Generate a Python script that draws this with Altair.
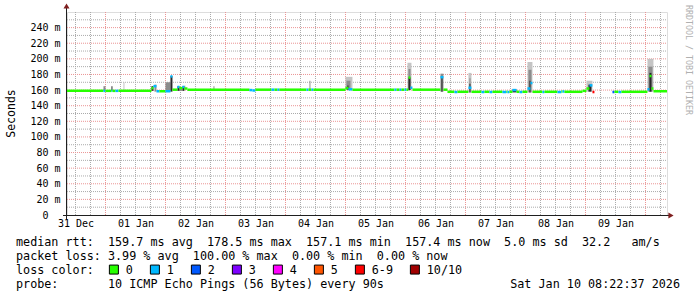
import json
import altair as alt
import pandas as pd

MONO = "DejaVu Sans Mono"
NB = "\u00a0"

# ---------------- data ----------------
# time axis: hours counted from 2025-12-31 00:00 ; graph window = 10 days
T_START = 8.6
T_END = 248.6

day_hours = [12, 36, 60, 84, 108, 132, 156, 180, 204, 228]
day_labels = ["31 Dec", "01 Jan", "02 Jan", "03 Jan", "04 Jan",
              "05 Jan", "06 Jan", "07 Jan", "08 Jan", "09 Jan"]
y_ticks = [0, 20, 40, 60, 80, 100, 120, 140, 160, 180, 200, 220, 240]

# median rtt (ms) as steps: start hour, value, loss class
med_start = [8.38, 23.18, 23.98, 26.38, 26.78, 27.98, 29.18,
             42.38, 43.18, 44.38, 45.58, 47.98, 49.98, 50.78, 52.78, 53.58, 54.78, 55.58, 56.78,
             81.58, 82.78, 83.98, 90.38, 91.58, 92.78, 93.58, 104.38, 105.18, 106.38, 107.18, 119.98, 121.18, 122.78,
             139.58, 140.38, 141.58, 142.38, 143.58, 144.38, 145.18, 145.98, 146.78, 157.98, 159.18, 160.78,
             163.58, 164.78, 169.18, 170.38, 174.38, 175.58, 177.58, 178.78, 182.78, 184.38, 184.78, 185.58,
             186.78, 188.38, 189.58, 190.78, 192.78, 193.98, 194.78,
             198.78, 199.58, 204.78, 206.38, 206.78, 207.58, 214.78, 216.38, 217.58, 218.78, 219.58,
             226.78, 227.58, 229.18, 230.38, 240.78, 241.58, 242.38, 243.18]
med_ms = [159.0, 159.0, 159.0, 159.0, 159.0, 159.0, 159.0,
          162.5, 165.0, 158.5, 158.5, 158.5, 177.5, 160.5, 164.0, 162.5, 164.0, 162.0, 160.5,
          160.0, 159.5, 160.5, 160.5, 160.5, 160.5, 160.5, 160.5, 160.5, 160.5, 160.5, 162.5, 161.0, 160.5,
          160.5, 160.5, 160.5, 160.5, 160.5, 160.5, 176.0, 163.0, 160.5, 176.5, 160.5, 157.8,
          157.5, 157.8, 163.0, 157.8, 157.5, 157.8, 157.5, 157.8, 157.5, 157.8, 157.5, 157.8,
          160.0, 157.8, 157.5, 157.8, 162.0, 169.0, 157.8,
          157.5, 157.8, 157.5, 158.2, 158.2, 157.8, 159.0, 162.0, 166.0, 157.5, None,
          157.5, 157.8, 157.5, 157.8, 161.0, 178.0, 162.0, 158.5]
med_loss = ["0", "1", "0", "1", "0", "1", "0",
            "0", "1", "1", "0", "1", "1", "0", "1", "0", "1", "0", "0",
            "1", "1", "0", "1", "0", "1", "0", "1", "0", "1", "0", "0", "1", "0",
            "1", "0", "1", "0", "1", "0", "0", "1", "0", "1", "0", "0",
            "1", "0", "1", "0", "1", "0", "1", "0", "1", "0", "1", "0",
            "1", "0", "1", "0", "1", "1", "0",
            "1", "0", "1", "0", "1", "0", "0", "0", "1", "6-9", None,
            "2", "0", "1", "0", "1", "0", "0", "0"]

# smoke (spread of the individual pings)
smoke_start = [23.18, 26.38, 31.18, 42.38, 43.58, 47.98, 49.98, 52.78, 53.58, 54.78, 55.58,
               67.18, 105.58, 119.98, 120.38, 120.78, 144.78, 145.18, 145.18, 157.98, 158.38,
               169.18, 169.58, 169.58, 186.78, 192.78, 193.18, 193.58, 216.38, 217.18, 240.78, 241.18, 241.58]
smoke_end = [23.98, 26.78, 31.58, 43.18, 44.38, 49.98, 50.78, 53.58, 54.78, 55.58, 55.98,
             67.58, 105.98, 122.78, 121.98, 121.18, 146.38, 145.98, 145.98, 159.18, 158.78,
             170.38, 169.98, 169.98, 188.38, 194.78, 194.38, 193.98, 218.78, 218.38, 243.18, 242.78, 242.38]
smoke_lo = [159, 159, 159, 159, 158, 158, 158, 159, 159, 159, 160,
            160, 160, 160, 160, 160, 160, 160, 160, 158, 158,
            157, 157, 157, 157, 157, 157, 157, 158, 158, 158, 158, 158]
smoke_hi = [165, 165, 170, 165, 167, 170, 178, 165, 164, 165, 166,
            165, 172, 177, 172, 166, 195, 187, 176, 181, 177,
            182, 175, 168, 161, 196, 186, 172, 172, 167, 200, 190, 182]
smoke_shade = ["mid", "dark", "light", "dark", "mid", "mid", "dark", "dark", "mid", "dark", "light",
               "mid", "mid", "light", "mid", "dark", "light", "mid", "dark", "mid", "dark",
               "light", "mid", "dark", "dark", "light", "mid", "dark", "light", "dark", "light", "mid", "dark"]

loss_labels = ["0", "1", "2", "3", "4", "5", "6-9", "10/10"]
loss_colors = ["#26ff00", "#00b8ff", "#0059ff", "#7e00ff", "#ff00ff", "#ff5500", "#ff0000", "#a10000"]

rtt_stats = [159.7, 178.5, 157.1, 157.4]   # avg max min now (ms)
rtt_sd = 5.0
rtt_ams = 32.2
loss_stats = [3.99, 100.00, 0.00, 0.00]    # avg max min now (%)
probe_text = "10 ICMP Echo Pings (56 Bytes) every 90s"
stamp_text = "Sat Jan 10 08:22:37 2026"

# ---------------- tables ----------------
med = pd.DataFrame({"start": med_start, "ms": med_ms, "loss": med_loss})
med["end"] = med_start[1:] + [T_END]
med = med.dropna(subset=["ms"])

shade_rank = {"light": 0, "mid": 1, "dark": 2}
smoke = pd.DataFrame({"start": smoke_start, "end": smoke_end, "lo": smoke_lo,
                      "hi": smoke_hi, "shade": smoke_shade})
smoke["rank"] = smoke["shade"].map(shade_rank)
smoke = smoke.sort_values("rank", kind="stable")

vgrid_minor = pd.DataFrame({"h": [h for h in range(12, 249, 6) if h % 24]})
vgrid_major = pd.DataFrame({"h": list(range(24, 241, 24))})
hgrid_minor = pd.DataFrame({"v": list(range(10, 251, 20))})
hgrid_major = pd.DataFrame({"v": list(range(20, 241, 20))})
one = pd.DataFrame({"a": [0]})

W, H = 600, 203
xs = alt.Scale(domain=[T_START, T_END], nice=False, zero=False)
ys = alt.Scale(domain=[0, 260], nice=False, zero=True)

x_axis = alt.Axis(values=day_hours,
                  labelExpr=f"{json.dumps(day_labels)}[indexof({json.dumps(day_hours)}, datum.value)]",
                  title=None, domain=False, ticks=False, grid=False,
                  labelFont=MONO, labelFontSize=10, labelColor="#000000",
                  labelPadding=3, labelFlush=False, labelOverlap=False)
y_axis = alt.Axis(values=y_ticks,
                  labelExpr=f"datum.value == 0 ? '0' : datum.value + '{NB}m'",
                  title=None, domain=False, ticks=False, grid=False,
                  labelFont=MONO, labelFontSize=10, labelColor="#000000",
                  labelPadding={"condition": {"test": "datum.value == 0", "value": 19}, "value": 7},
                  labelFlush=False, labelOverlap=False)

GRID = "#ababab"
MGRID = "#eb9595"

l_vmin = alt.Chart(vgrid_minor).mark_rule(color=GRID, strokeDash=[1, 1], strokeWidth=1).encode(
    x=alt.X("h:Q", scale=xs, axis=x_axis), y=alt.value(0), y2=alt.value(H))
l_hmin = alt.Chart(hgrid_minor).mark_rule(color=GRID, strokeDash=[1, 1], strokeWidth=1).encode(
    y=alt.Y("v:Q", scale=ys, axis=y_axis), x=alt.value(0), x2=alt.value(W))
l_vmaj = alt.Chart(vgrid_major).mark_rule(color=MGRID, strokeDash=[1, 1], strokeWidth=1).encode(
    x=alt.X("h:Q", scale=xs, axis=x_axis), y=alt.value(0), y2=alt.value(H))
l_hmaj = alt.Chart(hgrid_major).mark_rule(color=MGRID, strokeDash=[1, 1], strokeWidth=1).encode(
    y=alt.Y("v:Q", scale=ys, axis=y_axis), x=alt.value(0), x2=alt.value(W))

l_smoke = alt.Chart(smoke).mark_rect(strokeWidth=0).encode(
    x=alt.X("start:Q", scale=xs, axis=x_axis), x2="end:Q",
    y=alt.Y("lo:Q", scale=ys, axis=y_axis), y2="hi:Q",
    fill=alt.Fill("shade:N", scale=alt.Scale(domain=["light", "mid", "dark"],
                                             range=["#c4c4c4", "#8c8c8c", "#2a2a2a"]),
                  legend=None))

legend = alt.Legend(orient="none", legendX=41, legendY=251.5, direction="horizontal",
                    title=None, symbolType="square", symbolSize=81,
                    symbolStrokeColor="#000000", symbolStrokeWidth=1, symbolOpacity=1,
                    labelFont=MONO, labelFontSize=11.75, labelColor="#000000",
                    labelOffset=6, columnPadding=15, padding=0, offset=0)

l_med = alt.Chart(med).transform_calculate(
    lo="datum.ms - 1.6", hi="datum.ms + 1.6"
).mark_rect(strokeWidth=0, opacity=1).encode(
    x=alt.X("start:Q", scale=xs, axis=x_axis), x2="end:Q",
    y=alt.Y("lo:Q", scale=ys, axis=y_axis), y2="hi:Q",
    color=alt.Color("loss:N", scale=alt.Scale(domain=loss_labels, range=loss_colors), legend=legend))

AXIS = "#1f1f1f"
ARROW = "#7f1f1f"
l_xline = alt.Chart(one).mark_rule(color=AXIS, strokeWidth=1).encode(
    x=alt.value(-4), x2=alt.value(W + 3), y=alt.value(H + 0.5))
l_yline = alt.Chart(one).mark_rule(color=AXIS, strokeWidth=1).encode(
    x=alt.value(-0.5), y=alt.value(H + 4), y2=alt.value(-4))
l_xarrow = alt.Chart(one).mark_point(shape="triangle-right", filled=True, size=36, color=ARROW, opacity=1).encode(
    x=alt.value(W + 4), y=alt.value(H + 0.5))
l_yarrow = alt.Chart(one).mark_point(shape="triangle-up", filled=True, size=36, color=ARROW, opacity=1).encode(
    x=alt.value(-0.5), y=alt.value(-6))


def text_layer(s, x, y, size=11.75, align="left", **kw):
    return alt.Chart(pd.DataFrame({"t": [s.replace(" ", NB)]})).mark_text(
        font=MONO, fontSize=size, align=align, baseline="alphabetic", color="#000000", **kw
    ).encode(text="t:N", x=alt.value(x), y=alt.value(y))


row1 = ("median rtt:  " + f"{rtt_stats[0]:.1f} ms avg  {rtt_stats[1]:.1f} ms max  "
        f"{rtt_stats[2]:.1f} ms min  {rtt_stats[3]:.1f} ms now  {rtt_sd:.1f} ms sd  {rtt_ams:.1f}   am/s")
row2 = ("packet loss: " + f"{loss_stats[0]:.2f} % avg  {loss_stats[1]:.2f} % max  "
        f"{loss_stats[2]:.2f} % min  {loss_stats[3]:.2f} % now")
row3 = "loss color:"
row4 = "probe:       " + probe_text

LX = -51
texts = [
    text_layer(row1, LX, 233.5),
    text_layer(row2, LX, 247.5),
    text_layer(row3, LX, 261.8),
    text_layer(row4, LX, 276),
    text_layer(stamp_text, 613, 276, align="right"),
]

l_ytitle = alt.Chart(pd.DataFrame({"t": ["Seconds"]})).mark_text(
    font=MONO, fontSize=11.5, angle=270, align="center", baseline="middle", color="#000000"
).encode(text="t:N", x=alt.value(-55), y=alt.value(101.5))

l_wm = alt.Chart(pd.DataFrame({"t": ["RRDTOOL / TOBI OETIKER".replace(" ", NB)]})).mark_text(
    font=MONO, fontSize=8.3, angle=90, align="center", baseline="middle", color="#b0b0b0"
).encode(text="t:N", x=alt.value(620.5), y=alt.value(48))

chart = alt.layer(
    l_vmin, l_hmin, l_vmaj, l_hmaj, l_smoke, l_med,
    l_xline, l_yline, l_xarrow, l_yarrow, l_ytitle, l_wm, *texts
).properties(
    width=W, height=H,
    padding={"left": 67, "top": 12, "right": 30, "bottom": 82},
    autosize=alt.AutoSizeParams(type="none"),
).configure_view(stroke=None).configure(background="white")

chart.save("out.html", embed_options={"renderer": "svg", "actions": False})
